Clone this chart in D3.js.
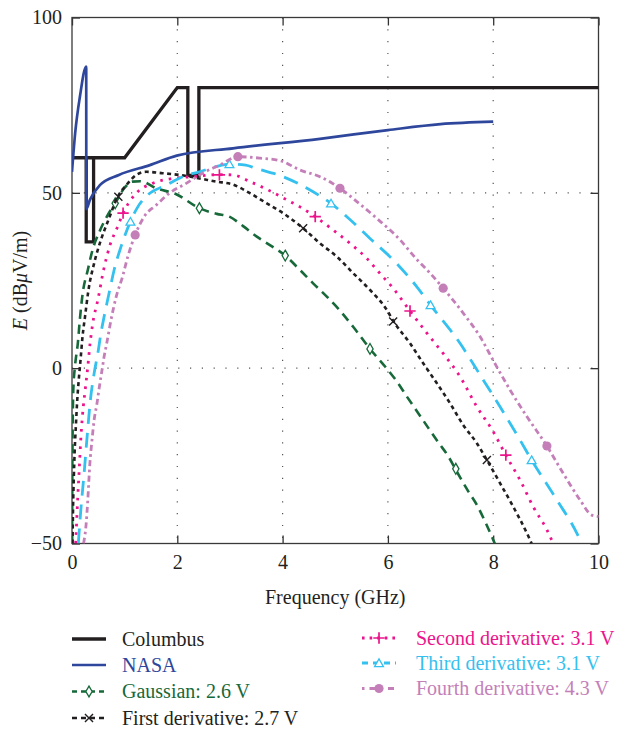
<!DOCTYPE html>
<html>
<head>
<meta charset="utf-8">
<script src="https://cdn.jsdelivr.net/npm/d3@7"></script>
<style>
  body { margin: 0; background: #fff; }
  text { font-family: "Liberation Serif", "DejaVu Serif", serif; }
</style>
</head>
<body>
<div id="chart"></div>
<script>
// Data: [frequency GHz, E dBuV/m]
var columbus = [[0,60],[0.27,60],[0.27,36],[0.41,36],[0.41,60],[0.27,60],[1.0,60],[2.0,80],[2.2,80],[2.2,55],[2.41,55],[2.41,80],[10,80]];
var nasa = [[0,56],[0.06,67],[0.15,77.4],[0.27,86],[0.272,45.4],[0.34,48],[0.53,52.2],[0.89,55.1],[1.48,57.9],[1.99,60.6],[3.06,62.7],[4.71,65.4],[6.0,67.9],[7.0,69.6],[8.0,70.3]];

var gaussian = [[0.002,-50],[0.006,-30],[0.012,-18],[0.025,-6],[0.06,1],[0.11,7],[0.15,14],[0.2,21],[0.3,28],[0.39,33.7],[0.52,38.9],[0.68,43.7],[0.82,47],[1.0,51.5],[1.15,53.2],[1.3,53.3],[1.6,51.3],[1.98,49.6],[2.42,45.6],[2.75,44],[2.99,43.2],[3.25,40.5],[3.51,37.5],[3.79,34.8],[4.05,32.1],[4.33,28],[4.58,24.2],[4.84,20.4],[5.09,16.4],[5.34,11.8],[5.66,5.5],[5.95,0.4],[6.17,-3.8],[6.36,-8.1],[6.58,-12.9],[6.77,-17.1],[6.96,-21.2],[7.15,-25.2],[7.29,-29],[7.51,-34.7],[7.69,-39],[7.86,-44.2],[8.03,-50]];
var firstDer = [[0.01,-50],[0.02,-40],[0.035,-31],[0.05,-24],[0.075,-16],[0.1,-9],[0.13,-3],[0.16,2],[0.2,9],[0.25,15],[0.31,22],[0.42,29.9],[0.55,36.6],[0.68,41.8],[0.87,48.9],[1.06,52.7],[1.22,55.1],[1.41,56],[1.72,55.6],[2.04,55.1],[2.42,54.1],[2.74,53.2],[3.05,52.4],[3.38,49.9],[3.7,47],[4.01,44.2],[4.39,39.9],[4.71,35.6],[5.03,31.8],[5.34,27.1],[5.66,22.3],[5.98,16.6],[6.1,13.5],[6.42,7.1],[6.67,1.4],[6.93,-4.3],[7.18,-10],[7.43,-16.2],[7.69,-21.4],[7.88,-26.2],[8.13,-32.8],[8.38,-39.5],[8.67,-48],[8.73,-50]];
var secondDer = [[0.07,-50],[0.09,-43.3],[0.11,-36.6],[0.14,-28.1],[0.17,-19.5],[0.2,-13.3],[0.25,-6.2],[0.3,0.4],[0.34,6.6],[0.4,13.3],[0.49,19.4],[0.6,28],[0.72,35],[0.87,40.5],[0.97,44.2],[1.22,49.9],[1.53,52.7],[1.91,54.1],[2.29,54.6],[2.8,55.2],[3.06,55.1],[3.38,53.2],[3.7,51],[4.08,48],[4.33,46],[4.62,43.2],[4.96,39.4],[5.28,35.6],[5.6,31.3],[5.85,27],[6.1,22.8],[6.42,16.3],[6.74,10],[7.05,4.2],[7.37,-2.4],[7.69,-11],[8.0,-18.1],[8.24,-24.8],[8.51,-31.9],[8.76,-39.5],[9.02,-46.1],[9.14,-50]];
var thirdDer = [[0.12,-50],[0.17,-40],[0.23,-30],[0.29,-19],[0.35,-9],[0.42,-1.5],[0.49,4.2],[0.55,10],[0.61,14.7],[0.71,21.8],[0.8,28],[0.93,34.6],[1.11,41.8],[1.25,46],[1.44,49.4],[1.79,52.2],[2.1,54.6],[2.42,56],[2.74,57.5],[2.99,58.2],[3.3,57.9],[3.49,57],[4.01,54.6],[4.58,50.3],[4.92,47],[5.22,43.2],[5.66,37],[6.13,30.4],[6.55,23.2],[6.81,18],[7.37,7.1],[7.75,-1.9],[8.13,-11],[8.51,-20.5],[8.73,-26.2],[9.21,-37.6],[9.59,-47.1],[9.68,-50]];
var fourthDer = [[0.22,-50],[0.27,-44.2],[0.3,-37.6],[0.34,-27.1],[0.38,-20.5],[0.42,-14.8],[0.47,-10.5],[0.52,-5.3],[0.58,0.4],[0.61,3.3],[0.66,7.1],[0.74,13.7],[0.84,20.4],[0.96,26.1],[1.06,31.8],[1.2,38],[1.37,43.2],[1.6,46.5],[1.85,49.9],[2.17,52.7],[2.48,55.6],[2.8,57.9],[3.15,60.3],[3.57,59.9],[3.95,59.2],[4.33,56.5],[4.71,54.6],[5.09,51.3],[5.41,47.5],[5.79,42.7],[6.23,36.6],[6.55,31],[6.8,27.1],[7.05,22.8],[7.43,15.7],[7.75,9],[8.03,1.4],[8.32,-6.2],[8.64,-13.8],[9.02,-22.2],[9.33,-30],[9.65,-37.6],[9.87,-41.9],[10,-42.3]];

// marker positions
var gaussianMarks = [[0.82,47],[2.42,45.6],[4.05,32.1],[5.66,5.5],[7.29,-28.7]];
var firstMarks = [[0.88,48.9],[4.39,39.9],[6.1,13.3],[7.88,-26.2]];
var secondMarks = [[0.97,44.2],[2.8,55.1],[4.62,43.2],[6.42,16.3],[8.24,-24.8]];
var thirdMarks = [[1.11,41.8],[2.99,58.2],[4.92,47],[6.81,18],[8.73,-26.2]];
var fourthMarks = [[1.2,38],[3.15,60.3],[5.09,51.3],[7.05,22.8],[9.02,-22.2]];

var xTicks = [0, 2, 4, 6, 8, 10];
var yTicks = [-50, 0, 50, 100];
var labels = ["Columbus", "NASA", "Gaussian: 2.6 V", "First derivative: 2.7 V",
              "Second derivative: 3.1 V", "Third derivative: 3.1 V", "Fourth derivative: 4.3 V"];

var svgWidth = 632, svgHeight = 729;
var plotLeft = 72, plotRight = 598.5, plotTop = 17.5, plotBottom = 543.5;
var fontSize = "20px";

var svg = d3.select("#chart").append("svg")
  .attr("width", svgWidth)
  .attr("height", svgHeight);

var x = d3.scaleLinear().domain([0, 10]).range([plotLeft, plotRight]);
var y = d3.scaleLinear().domain([-50, 100]).range([plotBottom, plotTop]);

svg.append("clipPath").attr("id", "plotclip")
  .append("rect")
  .attr("x", plotLeft).attr("y", plotTop - 2)
  .attr("width", plotRight - plotLeft + 2).attr("height", plotBottom - plotTop + 2);

// grid
var gridColor = "#555";
svg.append("g").selectAll("line")
  .data(xTicks.slice(1, -1))
  .enter().append("line")
  .attr("x1", d => x(d)).attr("x2", d => x(d))
  .attr("y1", plotTop).attr("y2", plotBottom)
  .attr("stroke", gridColor).attr("stroke-width", 1.2)
  .attr("stroke-dasharray", "1.2,10.6");
svg.append("g").selectAll("line")
  .data(yTicks.slice(1, -1))
  .enter().append("line")
  .attr("x1", plotLeft).attr("x2", plotRight)
  .attr("y1", d => y(d)).attr("y2", d => y(d))
  .attr("stroke", gridColor).attr("stroke-width", 1.2)
  .attr("stroke-dasharray", "1.2,10.6");

// axes
var fmt = d => d < 0 ? "\u2212" + Math.abs(d) : String(d);
var tickLen = 8;

var gB = svg.append("g").attr("transform", `translate(0,${plotBottom})`)
  .call(d3.axisBottom(x).tickValues(xTicks).tickFormat(fmt).tickSizeInner(-tickLen).tickSizeOuter(0).tickPadding(11));
var gT = svg.append("g").attr("transform", `translate(0,${plotTop})`)
  .call(d3.axisTop(x).tickValues(xTicks).tickFormat("").tickSizeInner(-tickLen).tickSizeOuter(0));
var gL = svg.append("g").attr("transform", `translate(${plotLeft},0)`)
  .call(d3.axisLeft(y).tickValues(yTicks).tickFormat(fmt).tickSizeInner(-tickLen).tickSizeOuter(0).tickPadding(10));
var gR = svg.append("g").attr("transform", `translate(${plotRight},0)`)
  .call(d3.axisRight(y).tickValues(yTicks).tickFormat("").tickSizeInner(-tickLen).tickSizeOuter(0));

[gB, gT, gL, gR].forEach(function(g) {
  g.select(".domain").remove();
  g.selectAll("line").attr("stroke", "#333").attr("stroke-width", 1.3);
  g.selectAll("text").attr("fill", "#231f20").style("font-size", fontSize)
    .style("font-family", '"Liberation Serif", serif');
});

// frame
svg.append("rect")
  .attr("x", plotLeft).attr("y", plotTop)
  .attr("width", plotRight - plotLeft).attr("height", plotBottom - plotTop)
  .attr("fill", "none").attr("stroke", "#3a3a3a").attr("stroke-width", 1.3);

// axis titles
svg.append("text")
  .attr("x", (plotLeft + plotRight) / 2).attr("y", 604)
  .attr("text-anchor", "middle")
  .attr("fill", "#231f20")
  .style("font-size", fontSize)
  .text("Frequency (GHz)");

var yl = svg.append("text")
  .attr("transform", `translate(27,${(plotTop + plotBottom) / 2}) rotate(-90)`)
  .attr("text-anchor", "middle")
  .attr("fill", "#231f20")
  .style("font-size", fontSize);
yl.append("tspan").attr("font-style", "italic").text("E");
yl.append("tspan").text(" (dB");
yl.append("tspan").attr("font-style", "italic").text("\u03bc");
yl.append("tspan").text("V/m)");

// series
var series = [
  { data: columbus, color: "#231f20", width: 3.3, dash: null, legendDash: null, curve: d3.curveLinear, marks: [], sym: null },
  { data: nasa, color: "#2e479c", width: 2.7, dash: null, legendDash: null, curve: d3.curveMonotoneX, marks: [], sym: null },
  { data: gaussian, color: "#17693a", width: 2.6, dash: "9,6", legendDash: "5,4", curve: d3.curveMonotoneX, marks: gaussianMarks, sym: "diamond" },
  { data: firstDer, color: "#231f20", width: 2.6, dash: "4,3.5", legendDash: "5,4", curve: d3.curveMonotoneX, marks: firstMarks, sym: "times" },
  { data: secondDer, color: "#ec148c", width: 2.8, dash: "2.6,6", legendDash: "2.6,5", curve: d3.curveMonotoneX, marks: secondMarks, sym: "plus" },
  { data: thirdDer, color: "#35c1ef", width: 2.8, dash: "15,9", legendDash: "6,5", curve: d3.curveMonotoneX, marks: thirdMarks, sym: "triangle" },
  { data: fourthDer, color: "#c47fb9", width: 2.8, dash: "6,3.5,2.5,3.5", legendDash: "2.5,5,6,5", curve: d3.curveMonotoneX, marks: fourthMarks, sym: "circle" }
];

var plot = svg.append("g").attr("clip-path", "url(#plotclip)");

function drawSymbol(g, sym, color, cx, cy) {
  if (sym === "diamond") {
    g.append("path").attr("d", d3.symbol(d3.symbolDiamond, 34)())
      .attr("transform", `translate(${cx},${cy})`)
      .attr("fill", "#fff").attr("stroke", color).attr("stroke-width", 1.3);
  } else if (sym === "times") {
    g.append("path").attr("d", d3.symbol(d3.symbolTimes, 44)())
      .attr("transform", `translate(${cx},${cy})`)
      .attr("fill", "none").attr("stroke", color).attr("stroke-width", 1.4);
  } else if (sym === "plus") {
    g.append("path").attr("d", d3.symbol(d3.symbolPlus, 44)())
      .attr("transform", `translate(${cx},${cy})`)
      .attr("fill", "none").attr("stroke", color).attr("stroke-width", 1.7);
  } else if (sym === "triangle") {
    g.append("path").attr("d", d3.symbol(d3.symbolTriangle2, 56)())
      .attr("transform", `translate(${cx},${cy + 1})`)
      .attr("fill", "#fff").attr("stroke", color).attr("stroke-width", 1.3);
  } else if (sym === "circle") {
    g.append("circle").attr("cx", cx).attr("cy", cy).attr("r", 4.6)
      .attr("fill", color);
  }
}

series.forEach(function(s) {
  var line = d3.line().x(d => x(d[0])).y(d => y(d[1])).curve(s.curve);
  plot.append("path")
    .datum(s.data)
    .attr("d", line)
    .attr("fill", "none")
    .attr("stroke", s.color)
    .attr("stroke-width", s.width)
    .attr("stroke-dasharray", s.dash)
    .attr("stroke-linejoin", "miter");
  s.marks.forEach(function(m) { drawSymbol(plot, s.sym, s.color, x(m[0]), y(m[1])); });
});

// legend
var legendPos = [
  [72, 639], [72, 665], [72, 691.5], [72, 718],
  [362, 638], [362, 663], [362, 688.5]
];
series.forEach(function(s, i) {
  var lx = legendPos[i][0], ly = legendPos[i][1];
  var g = svg.append("g");
  g.append("line")
    .attr("x1", lx).attr("x2", lx + 34)
    .attr("y1", ly).attr("y2", ly)
    .attr("stroke", s.color)
    .attr("stroke-width", s.width)
    .attr("stroke-dasharray", s.legendDash);
  if (s.sym) drawSymbol(g, s.sym, s.color, lx + 17, ly);
  g.append("text")
    .attr("x", i < 4 ? 122 : 416).attr("y", ly + 6.5)
    .attr("fill", s.color)
    .style("font-size", fontSize)
    .text(labels[i]);
});
</script>
</body>
</html>
